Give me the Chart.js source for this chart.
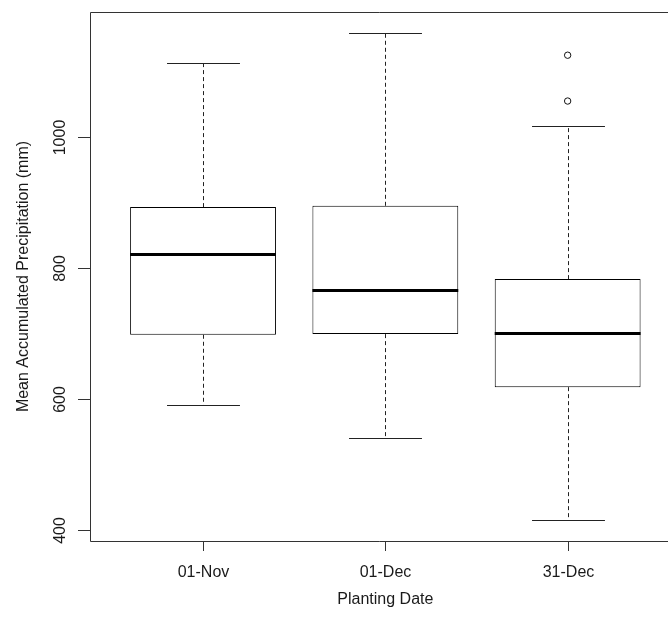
<!DOCTYPE html>
<html><head><meta charset="utf-8">
<script src="https://cdn.jsdelivr.net/npm/chart.js@4/dist/chart.umd.min.js"></script>
<style>html,body{margin:0;padding:0;background:#fff;overflow:hidden}#wrap{width:668px;height:624px}</style>
</head><body><div id="wrap"><canvas id="c" width="668" height="624"></canvas></div>
<script>
// ---- data ----
const categories = ['01-Nov', '01-Dec', '31-Dec'];
const positions = [1, 2, 3];
const whiskerLow = [591, 540, 415];
const q1 = [698, 699, 618];
const median = [821, 766, 701];
const q3 = [893, 895, 783];
const whiskerHigh = [1113, 1159, 1017];
const outlierGroup = [3, 3];
const outlierValues = [1055, 1125];
const yTicks = [400, 600, 800, 1000];
const xAxisTitle = 'Planting Date';
const yAxisTitle = 'Mean Accumulated Precipitation (mm)';

const FONT = '16px "Liberation Sans", Arial, sans-serif';
const TEXT = '#1a1a1a';

const boxPlugin = {
  id: 'boxParts',
  afterDatasetsDraw(chart) {
    const ctx = chart.ctx, y = chart.scales.y;
    const bars = chart.getDatasetMeta(0).data;
    ctx.save();
    bars.forEach((bar, i) => {
      const cx = Math.round(bar.x) + 0.5;
      const half = bar.width / 2;
      // dashed whiskers
      ctx.strokeStyle = '#222';
      ctx.lineWidth = 1;
      ctx.setLineDash([4, 3]);
      ctx.beginPath();
      ctx.moveTo(cx, y.getPixelForValue(q3[i]));
      ctx.lineTo(cx, y.getPixelForValue(whiskerHigh[i]));
      ctx.moveTo(cx, y.getPixelForValue(q1[i]));
      ctx.lineTo(cx, y.getPixelForValue(whiskerLow[i]));
      ctx.stroke();
      // caps (half box width)
      ctx.setLineDash([]);
      ctx.beginPath();
      [whiskerHigh[i], whiskerLow[i]].forEach(v => {
        const py = Math.round(y.getPixelForValue(v)) + 0.5;
        ctx.moveTo(cx - half / 2, py);
        ctx.lineTo(cx + half / 2, py);
      });
      ctx.stroke();
      // median
      ctx.strokeStyle = '#000';
      ctx.lineWidth = 3;
      ctx.beginPath();
      const my = Math.round(y.getPixelForValue(median[i]));
      ctx.moveTo(bar.x - half, my + 0.5);
      ctx.lineTo(bar.x + half, my + 0.5);
      ctx.stroke();
    });
    ctx.restore();
  },
  afterDraw(chart) {
    const ctx = chart.ctx, a = chart.chartArea, xs = chart.scales.x, ys = chart.scales.y;
    ctx.save();
    ctx.strokeStyle = '#333';
    ctx.lineWidth = 1;
    // frame (right side is cropped in the reference)
    ctx.beginPath();
    ctx.moveTo(chart.width, a.top + 0.5);
    ctx.lineTo(a.left + 0.5, a.top + 0.5);
    ctx.lineTo(a.left + 0.5, a.bottom + 0.5);
    ctx.lineTo(chart.width, a.bottom + 0.5);
    ctx.stroke();
    // y ticks and labels
    ctx.font = FONT;
    ctx.fillStyle = TEXT;
    yTicks.forEach(v => {
      const py = Math.round(ys.getPixelForValue(v)) + 0.5;
      ctx.beginPath();
      ctx.moveTo(a.left - 12, py);
      ctx.lineTo(a.left, py);
      ctx.stroke();
      ctx.save();
      ctx.translate(a.left - 29, py);
      ctx.rotate(-Math.PI / 2);
      ctx.textAlign = 'center';
      ctx.textBaseline = 'middle';
      ctx.fillText(String(v), 0, 0);
      ctx.restore();
    });
    // x ticks and labels
    positions.forEach((p, i) => {
      const px = Math.round(xs.getPixelForValue(p)) + 0.5;
      ctx.beginPath();
      ctx.moveTo(px, a.bottom + 1);
      ctx.lineTo(px, a.bottom + 10);
      ctx.stroke();
      ctx.textAlign = 'center';
      ctx.textBaseline = 'middle';
      ctx.fillText(categories[i], px, a.bottom + 32);
    });
    // axis titles
    ctx.textAlign = 'center';
    ctx.textBaseline = 'middle';
    const midX = xs.getPixelForValue((positions[0] + positions[positions.length - 1]) / 2);
    ctx.fillText(xAxisTitle, midX, a.bottom + 59);
    ctx.save();
    ctx.translate(24, (a.top + a.bottom) / 2);
    ctx.rotate(-Math.PI / 2);
    ctx.fillText(yAxisTitle, 0, 0);
    ctx.restore();
    ctx.restore();
  }
};

new Chart(document.getElementById('c'), {
  type: 'bar',
  data: {
    datasets: [
      {
        type: 'bar',
        data: positions.map((p, i) => ({ x: p, y: [q1[i], q3[i]] })),
        backgroundColor: '#ffffff',
        borderColor: '#000000',
        borderWidth: 1,
        borderSkipped: false,
        barPercentage: 1,
        categoryPercentage: 0.8
      },
      {
        type: 'scatter',
        data: outlierGroup.map((g, i) => ({ x: g, y: outlierValues[i] })),
        pointStyle: 'circle',
        pointRadius: 3.2,
        borderColor: '#111',
        borderWidth: 1,
        backgroundColor: 'rgba(0,0,0,0)'
      }
    ]
  },
  options: {
    responsive: false,
    animation: false,
    devicePixelRatio: 1,
    layout: { padding: { left: 90, top: 12, right: 0, bottom: 83 } },
    plugins: { legend: { display: false }, tooltip: { enabled: false } },
    scales: {
      x: {
        type: 'linear', min: 0.38, max: 3.523, offset: false, grid: { offset: false }, display: false,
        afterBuildTicks: (scale) => { scale.ticks = positions.map(v => ({ value: v })); }
      },
      y: { type: 'linear', min: 383, max: 1191, display: false }
    }
  },
  plugins: [boxPlugin]
});
</script>
</body></html>
